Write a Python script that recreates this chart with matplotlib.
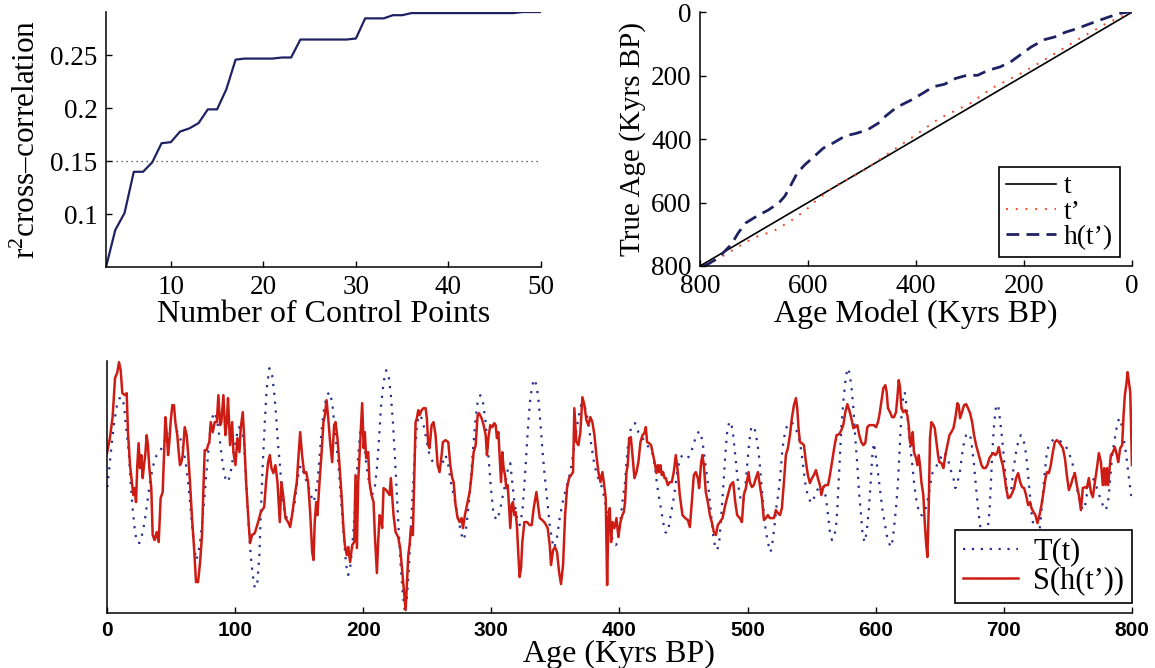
import numpy as np
import matplotlib.pyplot as plt

plt.rcParams['font.family'] = ['Liberation Serif', 'DejaVu Serif']
plt.rcParams['mathtext.fontset'] = 'custom'
plt.rcParams['mathtext.rm'] = 'Liberation Serif'
plt.rcParams['mathtext.it'] = 'Liberation Serif:italic'

# --- 1. DATA ---

# top left: r^2 cross-correlation vs number of control points
n_points = list(range(3, 51))
r2_corr = [0.050, 0.085, 0.101, 0.140, 0.140, 0.149, 0.167, 0.168, 0.178, 0.181,
           0.186, 0.199, 0.199, 0.218, 0.246, 0.247, 0.247, 0.247, 0.247, 0.248,
           0.248, 0.265, 0.265, 0.265, 0.265, 0.265, 0.265, 0.266, 0.285, 0.285,
           0.285, 0.288, 0.288, 0.290, 0.290, 0.290, 0.290, 0.290, 0.290, 0.290,
           0.290, 0.290, 0.290, 0.290, 0.290, 0.291, 0.291, 0.291]
r2_threshold = 0.15

# top right: true age vs age model (Kyrs BP)
t_model = [0, 800]
t_true = [0, 800]
tp_model = [0, 25, 50, 100, 150, 200, 260, 300, 357, 405, 446, 504, 551, 586, 603,
            633, 664, 701, 732, 763, 780, 800]
tp_true = [0, 18, 38, 86, 138, 188, 240, 288, 335, 392, 439, 507, 549, 595, 622,
           659, 690, 711, 742, 774, 790, 800]
h_model = [0, 7, 20, 41, 61, 82, 102, 123, 143, 163, 187, 204, 225, 245, 266, 286,
           306, 327, 347, 368, 388, 409, 436, 456, 470, 490, 511, 531, 552, 572,
           592, 606, 620, 633, 643, 654, 674, 695, 715, 729, 742, 766, 786, 800]
h_true = [0, 0, 3, 14, 26, 39, 52, 63, 78, 87, 110, 131, 157, 173, 183, 199,
          199, 209, 227, 235, 256, 277, 300, 327, 350, 371, 382, 390, 411, 429,
          460, 481, 507, 549, 580, 601, 624, 643, 664, 695, 732, 774, 795, 800]

# bottom: T(t) target and S(h(t')) record, (age Kyrs BP, arbitrary units)
T_pts = [
    (0.3, 126), (2.1, 148), (3.6, 168), (5.7, 191), (7.8, 208), (9.9, 215), (11.7, 216),
    (13.3, 208), (14.8, 188), (17.0, 161), (18.5, 131), (20.0, 105), (21.6, 85), (23.2, 71),
    (25.3, 70), (27.3, 78), (29.4, 91), (31.5, 111), (33.6, 131), (36.2, 148), (38.8, 158),
    (41.4, 161), (44.0, 170), (46.6, 176), (49.2, 180), (52.3, 183), (55.5, 181), (58.1, 171),
    (60.1, 161), (61.7, 148), (63.3, 131), (64.8, 111), (66.4, 88), (68.0, 68), (69.5, 53),
    (71.1, 58), (72.7, 71), (74.2, 88), (75.8, 111), (77.3, 135), (78.9, 158), (80.5, 181),
    (82.0, 195), (84.1, 201), (86.2, 191), (88.3, 171), (90.4, 148), (92.4, 135), (94.5, 131),
    (96.6, 141), (98.7, 158), (100.8, 175), (103.0, 186), (105.0, 183), (106.7, 175),
    (108.9, 125), (110.7, 85), (112.2, 58), (113.8, 38), (115.4, 25), (117.4, 31), (119.0, 58),
    (120.1, 101), (121.6, 148), (123.2, 191), (124.7, 225), (126.8, 245), (128.9, 238),
    (130.5, 221), (132.0, 198), (133.6, 168), (135.2, 145), (136.7, 118), (138.8, 101),
    (140.9, 93), (143.0, 91), (145.1, 101), (146.6, 111), (148.2, 128), (149.7, 141),
    (151.3, 148), (153.4, 141), (154.9, 135), (157.0, 128), (159.1, 118), (161.2, 111),
    (162.7, 118), (164.3, 131), (165.9, 155), (167.4, 181), (169.5, 205), (171.6, 218),
    (173.7, 221), (175.8, 211), (177.3, 191), (178.9, 171), (180.5, 151), (182.0, 125),
    (183.6, 98), (185.2, 71), (186.7, 48), (188.3, 38), (189.8, 45), (191.4, 65), (193.0, 95),
    (194.5, 131), (196.1, 158), (197.7, 181), (199.2, 188), (200.5, 178), (202.3, 150),
    (204.9, 128), (206.9, 118), (209.0, 125), (210.7, 145), (212.2, 171), (213.8, 205),
    (215.9, 231), (218.0, 243), (220.1, 235), (221.6, 218), (223.2, 191), (224.7, 158),
    (226.3, 118), (227.9, 78), (229.4, 45), (231.0, 18), (232.6, 1), (234.1, 15), (235.7, 45),
    (237.2, 85), (238.8, 125), (240.4, 161), (241.9, 188), (243.5, 198), (245.6, 195),
    (247.7, 185), (249.7, 171), (251.8, 158), (254.4, 151), (257.0, 148), (259.6, 145),
    (262.2, 151), (264.3, 158), (266.4, 148), (268.5, 131), (270.6, 118), (272.7, 105),
    (274.7, 91), (276.8, 78), (278.4, 73), (280.0, 81), (281.5, 98), (283.1, 118), (284.6, 145),
    (286.2, 171), (287.8, 195), (289.3, 211), (291.4, 218), (293.5, 211), (295.6, 191),
    (297.7, 158), (299.7, 125), (301.8, 98), (304.4, 93), (306.5, 101), (308.6, 115),
    (310.7, 128), (312.8, 143), (314.8, 150), (316.4, 131), (318.0, 111), (320.1, 95),
    (322.1, 88), (324.2, 101), (325.8, 128), (327.3, 158), (328.9, 191), (330.5, 215),
    (332.0, 228), (333.6, 234), (335.2, 228), (336.7, 215), (338.3, 191), (339.8, 165),
    (341.4, 141), (343.5, 115), (345.6, 88), (347.7, 71), (349.2, 65), (351.3, 76), (353.4, 95),
    (355.5, 110), (357.6, 121), (359.6, 131), (361.7, 141), (363.8, 158), (365.9, 178),
    (368.0, 196), (370.1, 208), (372.2, 210), (374.2, 201), (376.3, 185), (378.4, 165),
    (380.5, 148), (382.6, 138), (384.6, 131), (386.7, 125), (388.8, 111), (390.9, 95),
    (393.0, 81), (395.1, 71), (397.1, 68), (398.4, 70), (401.0, 95), (402.3, 111), (404.4, 131),
    (405.5, 151), (406.5, 165), (408.1, 180), (409.6, 188), (412.2, 190), (414.8, 181),
    (418.0, 175), (421.6, 168), (424.7, 163), (426.3, 158), (427.9, 145), (429.4, 128),
    (431.0, 115), (432.6, 103), (434.1, 91), (435.7, 81), (437.2, 80), (438.8, 88), (440.4, 101),
    (441.9, 111), (443.5, 125), (445.6, 145), (447.7, 156), (449.7, 158), (451.8, 155),
    (453.9, 156), (456.0, 161), (458.1, 170), (460.2, 178), (462.2, 182), (463.8, 178),
    (465.4, 166), (466.9, 151), (468.5, 135), (470.1, 118), (471.6, 98), (473.2, 78), (474.7, 66),
    (476.3, 63), (477.9, 71), (479.4, 95), (481.0, 125), (482.6, 158), (484.1, 181), (485.7, 191),
    (487.2, 191), (488.8, 178), (490.4, 158), (491.9, 138), (493.5, 121), (495.1, 111),
    (496.6, 111), (498.2, 125), (499.7, 148), (501.3, 171), (502.9, 186), (504.2, 187),
    (505.5, 185), (507.0, 175), (508.6, 161), (509.6, 148), (510.7, 131), (511.7, 115),
    (513.3, 91), (514.8, 78), (516.4, 68), (518.0, 61), (519.5, 71), (521.1, 88), (522.7, 108),
    (524.2, 121), (525.8, 141), (527.3, 165), (528.9, 178), (530.5, 186), (532.6, 190),
    (534.6, 191), (536.7, 186), (538.8, 181), (540.9, 171), (542.4, 158), (544.0, 141),
    (545.6, 125), (547.7, 115), (549.7, 110), (551.8, 115), (554.4, 123), (557.0, 128),
    (559.6, 126), (561.2, 115), (562.8, 98), (564.3, 81), (565.9, 73), (567.4, 76), (569.0, 85),
    (570.1, 105), (571.1, 131), (572.1, 158), (573.2, 185), (574.7, 211), (576.3, 231),
    (577.9, 245), (579.4, 241), (581.0, 228), (582.6, 205), (584.1, 175), (585.7, 148),
    (587.2, 118), (588.8, 95), (589.8, 78), (591.4, 71), (593.0, 81), (594.5, 101), (596.1, 130),
    (597.5, 160), (598.7, 170), (600.3, 155), (602.3, 135), (603.9, 118), (605.5, 101),
    (607.0, 91), (608.6, 78), (610.2, 71), (611.7, 66), (613.3, 73), (614.3, 85), (615.9, 105),
    (617.4, 131), (618.5, 158), (619.5, 185), (620.6, 205), (621.6, 218), (622.7, 221),
    (623.7, 211), (625.3, 191), (626.8, 168), (628.4, 151), (629.9, 131), (631.5, 115),
    (633.1, 105), (634.6, 98), (636.7, 98), (638.3, 101), (639.3, 106), (641.4, 118),
    (643.0, 131), (644.5, 141), (646.6, 145), (648.7, 150), (651.8, 158), (653.4, 161),
    (654.9, 158), (657.0, 151), (658.6, 143), (660.7, 135), (662.2, 125), (663.8, 131),
    (665.4, 138), (667.4, 158), (669.0, 171), (670.6, 178), (672.7, 180), (674.2, 175),
    (675.3, 165), (676.8, 148), (678.4, 125), (679.9, 105), (681.5, 88), (683.1, 76),
    (685.7, 71), (687.2, 81), (688.8, 101), (689.8, 125), (690.9, 158), (692.4, 188),
    (694.0, 208), (695.6, 208), (696.6, 198), (698.2, 181), (699.7, 161), (701.3, 138),
    (702.9, 118), (704.0, 112), (705.5, 118), (707.2, 141), (709.6, 161), (711.2, 171),
    (713.3, 178), (714.8, 175), (716.4, 168), (717.4, 158), (718.5, 145), (719.5, 131),
    (720.6, 115), (721.6, 101), (722.7, 91), (723.7, 85), (724.7, 76), (725.8, 71), (727.3, 78),
    (728.4, 88), (729.4, 101), (730.5, 118), (731.5, 135), (732.6, 148), (733.6, 161),
    (735.2, 168), (737.0, 172), (740.0, 174), (744.0, 172), (747.9, 168), (750.0, 163),
    (752.3, 155), (754.4, 146), (755.9, 136), (757.0, 125), (759.6, 111), (761.7, 103),
    (763.5, 108), (764.8, 118), (767.4, 128), (770.1, 134), (772.7, 125), (775.3, 115),
    (777.9, 106), (779.4, 103), (781.0, 108), (782.0, 118), (783.1, 135), (784.6, 158),
    (786.2, 171), (787.8, 183), (788.8, 191), (790.4, 195), (792.0, 188), (793.5, 175),
    (795.6, 158), (797.1, 141), (798.7, 125), (800.0, 113),
]

S_pts = [
    (0.0, 160), (2.3, 175), (4.4, 196), (6.3, 235), (8.1, 241), (9.4, 251), (10.7, 243),
    (12.0, 220), (14.1, 218), (15.4, 220), (16.4, 181), (18.0, 148), (19.5, 131), (20.6, 118),
    (21.6, 125), (22.7, 111), (23.7, 148), (24.7, 170), (25.8, 145), (26.8, 158), (27.9, 135),
    (28.9, 148), (29.9, 158), (31.0, 178), (32.0, 168), (33.1, 145), (34.6, 125), (35.7, 78),
    (37.2, 73), (38.8, 81), (40.4, 71), (41.9, 115), (43.5, 121), (44.5, 158), (45.6, 196),
    (46.6, 181), (47.7, 158), (48.7, 171), (49.7, 191), (51.0, 208), (52.3, 208), (53.4, 191),
    (54.9, 178), (56.0, 161), (57.0, 148), (58.1, 151), (59.1, 158), (60.7, 186), (62.2, 178),
    (63.3, 161), (64.8, 131), (66.4, 95), (68.0, 65), (69.5, 31), (71.1, 31), (72.7, 51),
    (74.2, 78), (75.3, 125), (76.3, 163), (77.9, 163), (78.9, 168), (79.9, 171), (81.0, 191),
    (82.6, 181), (84.1, 191), (85.7, 191), (87.0, 218), (88.3, 188), (89.3, 191), (90.9, 218),
    (92.4, 178), (93.5, 191), (94.5, 215), (96.1, 168), (97.7, 191), (98.7, 161), (100.3, 148),
    (101.8, 175), (103.4, 161), (104.4, 185), (106.0, 201), (107.0, 178), (108.6, 131),
    (110.2, 98), (111.7, 70), (113.3, 78), (115.4, 80), (118.0, 91), (120.1, 101), (122.7, 106),
    (124.2, 131), (125.8, 151), (127.1, 158), (128.4, 145), (129.9, 140), (131.5, 148),
    (133.1, 131), (134.9, 91), (136.2, 131), (137.8, 115), (139.3, 95), (141.4, 91), (143.0, 86),
    (144.5, 98), (146.6, 118), (148.2, 131), (149.2, 151), (150.8, 181), (152.3, 158),
    (153.9, 140), (155.5, 141), (157.0, 131), (158.6, 101), (160.2, 61), (161.2, 53), (162.2, 91),
    (163.3, 111), (164.3, 98), (165.9, 131), (167.4, 158), (169.0, 191), (170.1, 198),
    (171.4, 213), (172.7, 195), (174.2, 171), (175.8, 151), (177.3, 188), (178.4, 191),
    (179.9, 175), (181.5, 148), (183.1, 118), (184.6, 85), (185.7, 68), (187.2, 58), (188.3, 66),
    (189.8, 51), (191.4, 68), (193.0, 71), (194.0, 138), (195.1, 65), (196.1, 131), (197.7, 171),
    (199.2, 210), (200.4, 165), (201.3, 181), (202.3, 155), (203.9, 161), (204.9, 131),
    (206.5, 118), (208.1, 111), (209.1, 78), (210.7, 40), (211.7, 71), (212.8, 98), (213.8, 95),
    (214.8, 85), (215.9, 125), (218.0, 123), (219.5, 120), (220.6, 118), (221.6, 135),
    (222.7, 115), (223.7, 98), (225.3, 81), (227.3, 76), (228.9, 65), (230.5, 41), (232.0, 18),
    (233.1, 3), (234.1, 28), (235.2, 58), (236.2, 68), (237.2, 85), (238.8, 78), (239.8, 131),
    (240.9, 191), (241.9, 195), (243.0, 203), (244.0, 198), (245.6, 203), (247.1, 205),
    (248.7, 205), (249.7, 195), (250.8, 168), (251.8, 165), (253.4, 188), (254.9, 191),
    (256.5, 178), (258.1, 148), (259.6, 141), (261.2, 158), (262.2, 171), (264.3, 173),
    (266.4, 171), (268.0, 148), (269.5, 135), (270.6, 131), (272.1, 108), (273.7, 95),
    (275.3, 91), (276.8, 95), (277.9, 85), (279.4, 98), (281.5, 111), (283.1, 121), (284.6, 138),
    (286.2, 161), (287.8, 168), (289.3, 198), (290.4, 200), (292.4, 195), (294.0, 188),
    (295.6, 178), (296.6, 158), (297.7, 175), (299.2, 188), (300.8, 186), (302.3, 190),
    (303.4, 188), (304.4, 175), (305.5, 181), (306.5, 158), (307.6, 131), (308.6, 161),
    (309.6, 145), (310.7, 138), (311.7, 125), (312.8, 128), (313.8, 108), (314.8, 85),
    (315.9, 108), (316.9, 111), (318.0, 98), (319.0, 101), (320.1, 85), (321.1, 58), (322.1, 36),
    (323.2, 45), (324.2, 71), (325.8, 91), (327.9, 91), (329.9, 88), (331.5, 88), (333.1, 105),
    (335.2, 121), (336.2, 111), (337.8, 95), (339.8, 93), (341.9, 90), (344.0, 85), (345.6, 68),
    (346.6, 48), (348.2, 63), (349.7, 66), (351.3, 61), (352.9, 41), (354.4, 29), (356.0, 48),
    (357.6, 98), (359.1, 125), (360.7, 135), (362.2, 138), (363.8, 141), (364.8, 205),
    (366.4, 171), (368.0, 168), (369.5, 181), (371.1, 216), (372.7, 208), (374.2, 193),
    (375.8, 188), (377.3, 196), (378.9, 191), (380.5, 178), (382.0, 158), (383.6, 141),
    (385.2, 131), (386.7, 141), (387.8, 131), (389.3, 115), (390.4, 28), (391.4, 95),
    (392.4, 105), (393.5, 71), (394.5, 91), (396.1, 85), (397.7, 95), (399.2, 76), (400.8, 91),
    (402.3, 98), (403.4, 101), (404.4, 111), (405.5, 141), (406.5, 148), (407.6, 175),
    (408.9, 176), (410.2, 158), (411.7, 135), (413.3, 141), (414.8, 151), (416.4, 171),
    (418.0, 178), (419.5, 180), (420.6, 186), (421.6, 171), (423.2, 170), (424.7, 168),
    (426.3, 158), (427.9, 148), (428.9, 140), (430.0, 148), (431.0, 141), (432.0, 148),
    (433.1, 138), (434.1, 141), (435.2, 135), (436.2, 135), (437.8, 128), (439.3, 131),
    (440.9, 131), (442.4, 141), (444.0, 158), (445.6, 141), (447.1, 118), (449.2, 98),
    (451.3, 95), (453.4, 93), (455.0, 86), (456.5, 111), (458.1, 138), (459.6, 141), (461.2, 135),
    (462.2, 125), (463.8, 151), (464.8, 158), (465.9, 148), (467.4, 121), (469.0, 111),
    (470.6, 98), (472.1, 91), (473.7, 81), (475.3, 78), (476.8, 88), (478.4, 91), (480.5, 95),
    (482.6, 108), (484.6, 118), (486.7, 128), (488.8, 131), (490.4, 111), (491.9, 98), (494.0, 95),
    (495.6, 91), (497.1, 118), (498.7, 125), (500.8, 141), (501.8, 131), (503.4, 126),
    (504.9, 128), (506.5, 135), (508.1, 141), (509.6, 128), (511.2, 115), (512.8, 93), (514.3, 95),
    (515.9, 98), (517.4, 95), (519.0, 95), (520.6, 95), (522.1, 103), (523.7, 100), (525.3, 98),
    (526.8, 105), (528.4, 131), (529.9, 158), (531.5, 165), (533.1, 178), (534.6, 195),
    (536.2, 208), (537.8, 215), (538.8, 205), (539.8, 185), (540.9, 171), (542.4, 170),
    (544.0, 168), (545.6, 151), (547.1, 138), (548.7, 130), (550.3, 135), (551.8, 138),
    (553.4, 143), (554.9, 135), (556.5, 128), (557.6, 118), (559.1, 126), (560.7, 128),
    (562.8, 128), (564.3, 138), (566.4, 155), (568.0, 168), (569.5, 178), (571.6, 179),
    (573.2, 183), (574.7, 188), (576.3, 201), (577.9, 209), (579.4, 203), (581.0, 195),
    (582.6, 185), (584.1, 186), (585.7, 188), (587.2, 178), (588.8, 171), (590.4, 168),
    (591.9, 170), (593.5, 186), (595.1, 188), (597.1, 188), (598.7, 188), (600.3, 186),
    (601.8, 191), (602.9, 198), (604.4, 211), (606.0, 225), (607.6, 228), (608.6, 221),
    (609.6, 205), (611.2, 201), (612.8, 196), (614.3, 196), (615.9, 201), (616.9, 215),
    (618.0, 233), (619.0, 226), (620.1, 205), (621.6, 201), (623.2, 203), (624.7, 198),
    (625.8, 188), (626.8, 171), (627.9, 168), (628.9, 181), (629.9, 161), (631.5, 155),
    (632.6, 148), (633.6, 158), (634.6, 148), (635.7, 131), (637.2, 118), (638.3, 91),
    (639.3, 71), (640.4, 56), (641.4, 105), (642.4, 175), (643.5, 191), (645.1, 188),
    (646.1, 185), (647.7, 168), (648.7, 158), (649.7, 151), (651.3, 150), (652.9, 145),
    (654.4, 158), (656.0, 168), (657.6, 178), (659.1, 181), (660.7, 185), (662.2, 195),
    (663.8, 210), (664.8, 208), (665.9, 195), (667.4, 201), (669.0, 208), (670.6, 209),
    (672.1, 205), (673.7, 200), (675.3, 191), (676.8, 178), (678.4, 168), (680.5, 158),
    (682.6, 148), (684.1, 145), (685.7, 145), (687.2, 148), (688.8, 155), (690.4, 158),
    (691.9, 160), (693.5, 158), (695.1, 161), (696.1, 166), (697.7, 155), (699.2, 148),
    (700.8, 135), (701.8, 125), (703.4, 115), (704.9, 116), (706.5, 120), (708.1, 125),
    (709.6, 135), (711.2, 140), (712.8, 131), (714.3, 126), (715.9, 125), (717.4, 118),
    (719.0, 108), (720.6, 111), (721.6, 105), (723.2, 101), (724.7, 98), (726.3, 90), (727.9, 98),
    (729.4, 108), (731.0, 121), (732.6, 135), (733.6, 141), (735.2, 140), (736.7, 148),
    (738.3, 161), (739.8, 171), (741.4, 173), (743.0, 171), (744.5, 168), (746.1, 165),
    (747.7, 155), (749.2, 138), (750.8, 123), (752.3, 128), (753.9, 135), (755.5, 140),
    (757.0, 128), (758.6, 118), (760.2, 103), (761.7, 125), (763.3, 126), (764.8, 125),
    (766.4, 135), (768.0, 121), (769.5, 116), (771.1, 131), (772.7, 145), (774.2, 160),
    (775.8, 151), (777.3, 128), (778.4, 145), (779.4, 128), (780.5, 145), (781.5, 128),
    (782.6, 145), (783.6, 158), (785.2, 161), (786.7, 166), (788.3, 158), (789.3, 151),
    (790.9, 165), (792.4, 168), (793.5, 198), (794.5, 218), (795.6, 228), (796.6, 241),
    (797.7, 231), (798.7, 221), (799.4, 185), (800.0, 148),
]

T_age, T_val = np.array(T_pts).T
S_age, S_val = np.array(S_pts).T

NAVY = '#1f2262'
RED = '#cc1c14'

# --- 2. FIGURE ---

fig = plt.figure(figsize=(11.55, 6.68), dpi=100)


def style_axes(ax):
    for side in ('top', 'right'):
        ax.spines[side].set_visible(False)
    for side in ('left', 'bottom'):
        ax.spines[side].set_linewidth(1.1)
    ax.tick_params(direction='in', length=4, width=1.0, labelsize=19.5, pad=6)


def boxed_legend(ax, anchor, size, textpad):
    leg = ax.legend(loc='lower right', bbox_to_anchor=anchor, fontsize=size,
                    frameon=True, fancybox=False, edgecolor='black', framealpha=1,
                    labelspacing=0.0, handlelength=1.8, handletextpad=textpad,
                    borderpad=0.25, borderaxespad=0)
    leg.get_frame().set_linewidth(1.2)
    return leg


# top left
ax1 = fig.add_axes([0.0918, 0.6003, 0.3766, 0.3817])
ax1.plot(n_points, r2_corr, color=NAVY, lw=1.6)
ax1.plot([n_points[0], n_points[-1]], [r2_threshold, r2_threshold],
         color='#333333', lw=0.9, ls=(0, (1, 3)))
ax1.set_xlim(3, 50)
ax1.set_ylim(0.05, 0.291)
ax1.set_xticks([10, 20, 30, 40, 50])
ax1.set_yticks([0.1, 0.15, 0.2, 0.25])
ax1.set_yticklabels(['0.1', '0.15', '0.2', '0.25'])
style_axes(ax1)
ax1.set_xlabel('Number of Control Points', fontsize=23, labelpad=0)
ax1.set_ylabel('$\\mathregular{r^2}$cross\u2013correlation', fontsize=22.5, labelpad=6)

# top right
ax2 = fig.add_axes([0.6061, 0.6018, 0.3740, 0.3800])
ax2.plot(t_model, t_true, color='black', lw=1.2, label='t')
ax2.plot(tp_model, tp_true, color='#ee4a2a', lw=1.4, ls=(0, (1, 4)), label='t\u2019')
ax2.plot(h_model, h_true, color=NAVY, lw=2.0, ls=(0, (4.6, 2.6)), label='h(t\u2019)')
ax2.set_xlim(800, 0)
ax2.set_ylim(800, 0)
ax2.set_xticks([800, 600, 400, 200, 0])
ax2.set_yticks([0, 200, 400, 600, 800])
style_axes(ax2)
ax2.set_xlabel('Age Model (Kyrs BP)', fontsize=23, labelpad=0)
ax2.set_ylabel('True Age (Kyrs BP)', fontsize=21, labelpad=4)
boxed_legend(ax2, (0.972, 0.035), 20, 0.3)

# bottom
ax3 = fig.add_axes([0.0926, 0.0823, 0.8874, 0.3770])
ax3.plot(T_age, T_val, color='#2a2f8c', lw=1.6, ls=(0, (1, 3)), label='T(t)')
ax3.plot(S_age, S_val, color=RED, lw=1.8, label='S(h(t\u2019))')
ax3.set_xlim(0, 800)
ax3.set_ylim(0, 252)
ax3.set_xticks(range(0, 801, 100))
ax3.set_yticks([])
style_axes(ax3)
for lab in ax3.get_xticklabels():
    lab.set_fontfamily(['Liberation Sans', 'DejaVu Sans'])
    lab.set_fontsize(15)
    lab.set_fontweight('bold')
ax3.set_xlabel('Age (Kyrs BP)', fontsize=23, labelpad=0)
boxed_legend(ax3, (1.0, 0.04), 22, 0.5)

fig.savefig('out.png', dpi=100, facecolor='white')
